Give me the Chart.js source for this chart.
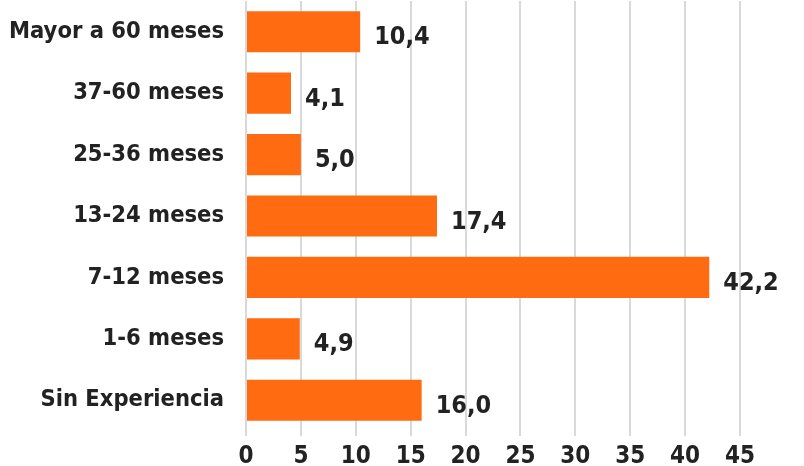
<!DOCTYPE html>
<html>
<head>
<meta charset="utf-8">
<script src="https://cdn.jsdelivr.net/npm/chart.js@4.4.1/dist/chart.umd.min.js"></script>
<style>
  html, body { margin: 0; padding: 0; background: #fff; }
  .chart-parent { width: 804px; height: 466px; position: relative; }
</style>
</head>
<body>
<div class="chart-parent">
  <canvas id="myChart"></canvas>
</div>
<script>
const categories = ['Mayor a 60 meses', '37-60 meses', '25-36 meses', '13-24 meses', '7-12 meses', '1-6 meses', 'Sin Experiencia'];
const values = [10.4, 4.1, 5.0, 17.4, 42.2, 4.9, 16.0];
const xTicks = [0, 5, 10, 15, 20, 25, 30, 35, 40, 45];

const FONT = '"DejaVu Sans Condensed", "DejaVu Sans", sans-serif';

// value labels to the right of each bar, comma decimals
const barLabels = {
  id: 'barLabels',
  afterDatasetsDraw(chart) {
    const ctx = chart.ctx;
    const meta = chart.getDatasetMeta(0);
    ctx.save();
    ctx.font = 'bold 25px ' + FONT;
    ctx.fillStyle = '#222';
    ctx.textAlign = 'left';
    ctx.textBaseline = 'middle';
    meta.data.forEach((bar, i) => {
      const txt = values[i].toFixed(1).replace('.', ',');
      ctx.fillText(txt, bar.x + 14, bar.y + 6);
    });
    ctx.restore();
  }
};

const ctx = document.getElementById('myChart');
const myChart = new Chart(ctx, {
  type: 'bar',
  data: {
    labels: categories,
    datasets: [
      {
        data: values,
        backgroundColor: '#FF6B11',
        barPercentage: 0.67,
        categoryPercentage: 1.0,
      },
    ],
  },
  options: {
    indexAxis: 'y',
    responsive: true,
    maintainAspectRatio: false,
    animation: false,
    layout: { padding: { top: 1, right: 64, left: 0, bottom: 0 } },
    plugins: {
      legend: { display: false },
      tooltip: { enabled: false },
    },
    scales: {
      x: {
        min: 0,
        max: 45,
        afterBuildTicks: (scale) => {
          scale.ticks = xTicks.map((v) => ({ value: v }));
        },
        afterFit: (scale) => { scale.height = 35; },
        border: { display: false },
        grid: { color: '#d9d9d9', lineWidth: 2, tickLength: 5 },
        ticks: {
          color: '#222',
          padding: 6,
          font: { family: FONT, size: 24, weight: 'bold' },
        },
      },
      y: {
        afterFit: (scale) => {
          scale.width = 246;
          scale.paddingTop = 0;
          scale.paddingBottom = 0;
        },
        border: { display: false },
        grid: { display: false, drawTicks: false },
        ticks: {
          color: '#222',
          padding: 22,
          font: { family: FONT, size: 23.5, weight: 'bold' },
        },
      },
    },
  },
  plugins: [barLabels],
});
</script>
</body>
</html>
